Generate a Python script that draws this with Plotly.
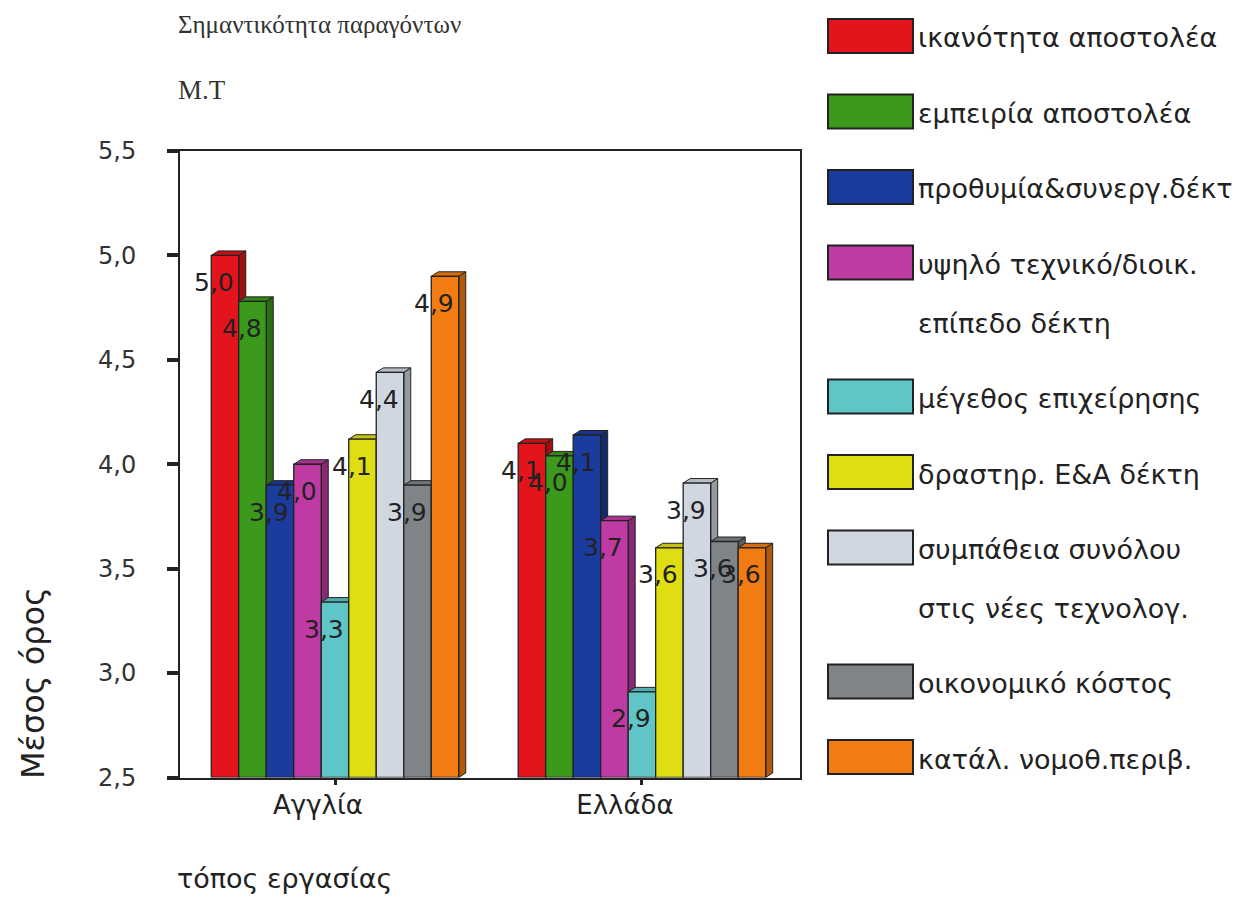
import plotly.graph_objects as go

# ---- data ----
places = ["Αγγλία", "Ελλάδα"]
factors = [
    "ικανότητα αποστολέα",
    "εμπειρία αποστολέα",
    "προθυμία&συνεργ.δέκτ",
    "υψηλό τεχνικό/διοικ. επίπεδο δέκτη",
    "μέγεθος επιχείρησης",
    "δραστηρ. Ε&Α δέκτη",
    "συμπάθεια συνόλου στις νέες τεχνολογ.",
    "οικονομικό κόστος",
    "κατάλ. νομοθ.περιβ.",
]
legend_lines = [
    ["ικανότητα αποστολέα"],
    ["εμπειρία αποστολέα"],
    ["προθυμία&συνεργ.δέκτ"],
    ["υψηλό τεχνικό/διοικ.", "επίπεδο δέκτη"],
    ["μέγεθος επιχείρησης"],
    ["δραστηρ. Ε&Α δέκτη"],
    ["συμπάθεια συνόλου", "στις νέες τεχνολογ."],
    ["οικονομικό κόστος"],
    ["κατάλ. νομοθ.περιβ."],
]
# mean score per factor: [Αγγλία, Ελλάδα]
means = [
    [5.00, 4.10],
    [4.78, 4.04],
    [3.90, 4.14],
    [4.00, 3.73],
    [3.34, 2.91],
    [4.12, 3.60],
    [4.44, 3.91],
    [3.90, 3.63],
    [4.90, 3.60],
]
y_ticks = [2.5, 3.0, 3.5, 4.0, 4.5, 5.0, 5.5]

colors = ["#e3141b", "#3b9a1c", "#1a3c9e", "#bf3aa2", "#5fc5c7",
          "#dede12", "#d0d7e0", "#7e8488", "#f27c12"]

SANS = "DejaVu Sans, Arial"
SERIF = "Liberation Serif, Times New Roman"

# ---- geometry (figure pixels) ----
W, H = 1259, 909
PL, PR, PT, PB = 180, 800, 151, 777.5
X_RANGE = [-0.505, 1.515]
Y_RANGE = [2.5, 5.5]
px_per_x = (PR - PL) / (X_RANGE[1] - X_RANGE[0])
px_per_y = (PB - PT) / (Y_RANGE[1] - Y_RANGE[0])
bar_w = 27.5 / px_per_x
depth_x = 7 / px_per_x
depth_y = 4.5 / px_per_y
n = len(factors)


def shade(hex_color, k):
    r, g, b = (int(hex_color[i:i + 2], 16) for i in (1, 3, 5))
    if k < 1:
        r, g, b = (int(c * k) for c in (r, g, b))
    else:
        t = k - 1
        r, g, b = (int(c + (255 - c) * t) for c in (r, g, b))
    return f"rgb({r},{g},{b})"


fig = go.Figure()
shapes = []
annotations = []
xpos = list(range(len(places)))

for i, (name, vals, col) in enumerate(zip(factors, means, colors)):
    off = -n / 2 * bar_w + i * bar_w
    fig.add_trace(go.Bar(
        x=xpos, y=[v - Y_RANGE[0] for v in vals], base=Y_RANGE[0],
        offset=off, width=bar_w, name=name,
        marker=dict(color=col, line=dict(color="#222222", width=1.3)),
        showlegend=False, hoverinfo="skip",
    ))
    for j, v in enumerate(vals):
        x0 = j + off
        x1 = x0 + bar_w
        b0 = Y_RANGE[0]
        # right-hand face
        shapes.append(dict(
            type="path", xref="x", yref="y", layer="below",
            path=f"M{x1},{b0} L{x1},{v} L{x1 + depth_x},{v + depth_y} "
                 f"L{x1 + depth_x},{b0 + depth_y} Z",
            fillcolor=shade(col, 0.72), line=dict(color="#222222", width=1),
        ))
        # top face
        shapes.append(dict(
            type="path", xref="x", yref="y", layer="below",
            path=f"M{x0},{v} L{x1},{v} L{x1 + depth_x},{v + depth_y} "
                 f"L{x0 + depth_x},{v + depth_y} Z",
            fillcolor=shade(col, 0.88), line=dict(color="#222222", width=1),
        ))
        annotations.append(dict(
            x=x0 + bar_w / 2, y=v, xref="x", yref="y",
            text=f"{v:.1f}".replace(".", ","), showarrow=False,
            xshift=-11, yshift=-27,
            font=dict(family=SANS, size=25, color="#222222"),
        ))

# ---- legend drawn at the right ----
row_y = 36
for lines, col in zip(legend_lines, colors):
    shapes.append(dict(
        type="rect", xref="paper", yref="paper",
        x0=828 / W, x1=913 / W, y0=1 - (row_y - 17) / H, y1=1 - (row_y + 17) / H,
        fillcolor=col, line=dict(color="#222222", width=2),
    ))
    for k, line in enumerate(lines):
        annotations.append(dict(
            x=916 / W, y=1 - (row_y + 2 + k * 58.5) / H, xref="paper", yref="paper",
            text=line, showarrow=False, xanchor="left", yanchor="middle",
            font=dict(family=SANS, size=27, color="#222222"),
        ))
    row_y += 75.5 + 58.5 * (len(lines) - 1)

# ---- titles ----
annotations += [
    dict(x=176 / W, y=1 - 25 / H, xref="paper", yref="paper", showarrow=False,
         xanchor="left", yanchor="middle", text="Σημαντικότητα παραγόντων",
         font=dict(family=SERIF, size=25, color="#333333")),
    dict(x=176 / W, y=1 - 90 / H, xref="paper", yref="paper", showarrow=False,
         xanchor="left", yanchor="middle", text="Μ.Τ",
         font=dict(family=SERIF, size=27, color="#333333")),
    dict(x=33 / W, y=1 - 683 / H, xref="paper", yref="paper", showarrow=False,
         xanchor="center", yanchor="middle", text="Μέσος όρος", textangle=-90,
         font=dict(family=SANS, size=32, color="#222222")),
    dict(x=175 / W, y=1 - 878 / H, xref="paper", yref="paper", showarrow=False,
         xanchor="left", yanchor="middle", text="τόπος εργασίας",
         font=dict(family=SANS, size=27, color="#222222")),
]

fig.update_layout(
    width=W, height=H,
    margin=dict(l=0, r=0, t=0, b=0),
    paper_bgcolor="white", plot_bgcolor="white",
    barmode="overlay",
    separators=",.",
    shapes=shapes, annotations=annotations,
    xaxis=dict(
        domain=[PL / W, PR / W], range=X_RANGE,
        tickvals=xpos, ticktext=places,
        ticks="outside", ticklen=5, tickwidth=3, tickcolor="#222222",
        ticklabelshift=-17, ticklabelstandoff=-2,
        showline=True, linewidth=2, linecolor="#222222", mirror=True,
        showgrid=False, zeroline=False, automargin=False,
        tickfont=dict(family=SANS, size=26, color="#222222"),
    ),
    yaxis=dict(
        domain=[1 - PB / H, 1 - PT / H], range=Y_RANGE,
        tickvals=y_ticks, tickformat=".1f",
        ticks="outside", ticklen=11, tickwidth=4, tickcolor="#222222",
        ticklabelstandoff=26,
        showline=True, linewidth=2, linecolor="#222222", mirror=True,
        showgrid=False, zeroline=False, automargin=False,
        tickfont=dict(family=SANS, size=24, color="#333333"),
    ),
    font=dict(family=SANS),
)

fig.write_html("out.html")
